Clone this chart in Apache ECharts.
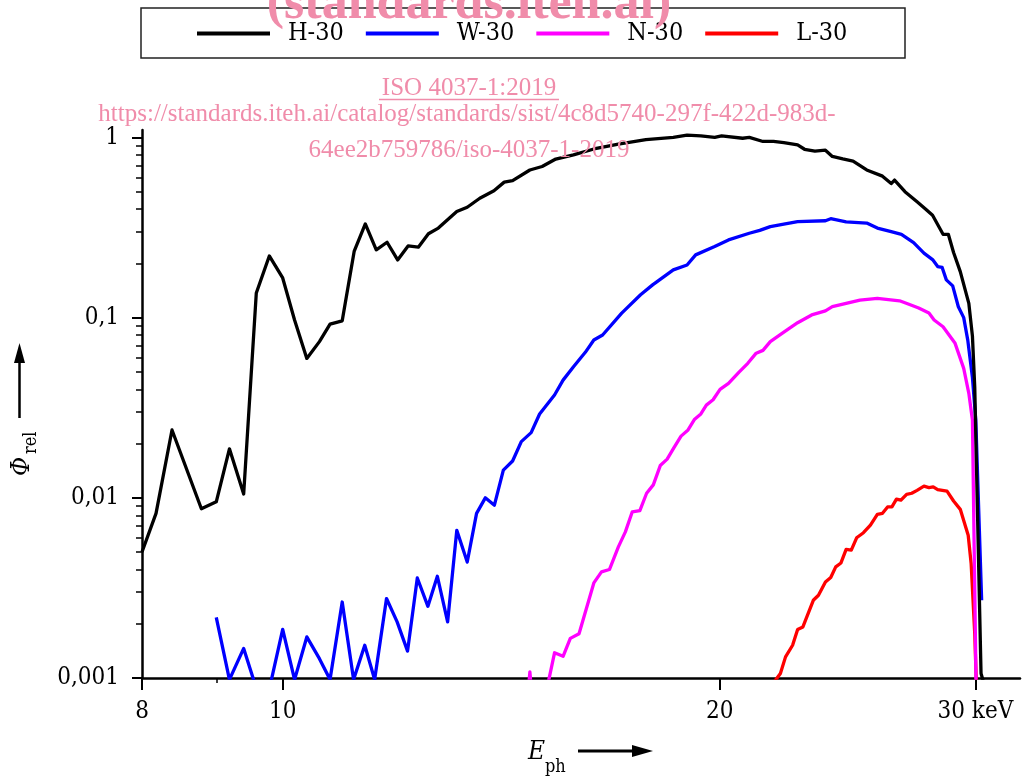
<!DOCTYPE html>
<html><head><meta charset="utf-8">
<script src="https://cdn.jsdelivr.net/npm/echarts@6/dist/echarts.min.js"></script>
<style>html,body{margin:0;padding:0;background:#fff}#c{width:1022px;height:778px}</style>
</head><body><div id="c"></div>
<script>
const seriesNames = ['H-30', 'W-30', 'N-30', 'L-30'];
const seriesColors = ['#000000', '#0000ff', '#ff00ff', '#ff0000'];

const h30E = [8.0, 8.18, 8.39, 8.79, 9.0, 9.19, 9.4, 9.59, 9.79, 10.0, 10.19, 10.39, 10.6, 10.78, 10.99, 11.2, 11.4, 11.6, 11.8, 12.0, 12.2, 12.4, 12.6, 12.8, 13.18, 13.4, 13.67, 13.98, 14.21, 14.4, 14.8, 15.09, 15.42, 15.86, 16.38, 17.03, 17.79, 18.58, 18.99, 19.41, 19.84, 20.06, 20.74, 20.96, 21.42, 21.78, 22.14, 22.63, 22.88, 23.26, 23.65, 23.91, 24.31, 24.71, 25.25, 25.89, 26.25, 26.39, 26.83, 27.35, 27.73, 28.03, 28.5, 28.74, 28.98, 29.29, 29.69, 29.86, 29.97, 30.27, 30.45];
const h30Phi = [0.0050, 0.0082, 0.0238, 0.0087, 0.0095, 0.0187, 0.0105, 0.137, 0.220, 0.166, 0.097, 0.0594, 0.0736, 0.092, 0.096, 0.233, 0.331, 0.238, 0.262, 0.209, 0.250, 0.246, 0.292, 0.314, 0.388, 0.41, 0.46, 0.506, 0.565, 0.576, 0.66, 0.69, 0.759, 0.80, 0.863, 0.918, 0.973, 1.0, 1.03, 1.02, 1.0, 1.02, 0.99, 1.0, 0.95, 0.95, 0.935, 0.91, 0.86, 0.84, 0.85, 0.785, 0.76, 0.74, 0.66, 0.61, 0.555, 0.58, 0.50, 0.44, 0.40, 0.37, 0.29, 0.29, 0.23, 0.18, 0.12, 0.079, 0.041, 0.00106, 0.0009];

const w30E = [9.0, 9.19, 9.4, 9.58, 9.8, 10.0, 10.19, 10.39, 10.6, 10.78, 10.99, 11.19, 11.39, 11.57, 11.79, 11.99, 12.19, 12.38, 12.59, 12.78, 12.99, 13.18, 13.4, 13.6, 13.79, 13.99, 14.19, 14.4, 14.6, 14.83, 15.03, 15.39, 15.6, 15.86, 16.16, 16.38, 16.61, 17.12, 17.64, 17.98, 18.58, 18.99, 19.25, 19.84, 20.28, 20.96, 21.31, 21.67, 22.14, 22.63, 23.65, 23.85, 24.44, 25.25, 25.68, 26.25, 26.68, 27.2, 27.65, 28.03, 28.26, 28.46, 28.65, 28.94, 29.2, 29.45, 29.64, 29.86, 30.02, 30.3];
const w30Phi = [0.00217, 0.00098, 0.00146, 0.0009, 0.0009, 0.00186, 0.00098, 0.00169, 0.00128, 0.00098, 0.00264, 0.00098, 0.00152, 0.00098, 0.00276, 0.00205, 0.00141, 0.00359, 0.0025, 0.00367, 0.00205, 0.0066, 0.0044, 0.0082, 0.0100, 0.0091, 0.01425, 0.016, 0.0205, 0.023, 0.0292, 0.0372, 0.045, 0.0534, 0.0642, 0.0752, 0.0801, 0.106, 0.134, 0.152, 0.184, 0.196, 0.223, 0.248, 0.27, 0.294, 0.305, 0.32, 0.33, 0.341, 0.345, 0.354, 0.34, 0.335, 0.314, 0.30, 0.29, 0.261, 0.228, 0.21, 0.192, 0.19, 0.162, 0.15, 0.115, 0.1, 0.075, 0.0465, 0.027, 0.0027];

const n30E = [14.6, 14.8, 15.0, 15.2, 15.39, 15.6, 15.78, 16.0, 16.38, 16.58, 16.79, 17.03, 17.22, 17.41, 17.62, 17.81, 18.0, 18.2, 18.4, 18.6, 18.81, 19.02, 19.22, 19.41, 19.58, 19.79, 20.01, 20.28, 20.63, 20.91, 21.19, 21.42, 21.67, 22.09, 22.63, 23.14, 23.65, 23.91, 24.44, 24.98, 25.68, 26.6, 26.97, 27.42, 27.87, 28.1, 28.5, 29.05, 29.45, 29.69, 29.86, 30.03];
const n30Phi = [0.0003, 0.00108, 0.0003, 0.00086, 0.00138, 0.00132, 0.00166, 0.00176, 0.00337, 0.00388, 0.0040, 0.00534, 0.00647, 0.00836, 0.0085, 0.0106, 0.0118, 0.0151, 0.0164, 0.019, 0.022, 0.0238, 0.0273, 0.0292, 0.0327, 0.035, 0.040, 0.0432, 0.050, 0.0558, 0.0635, 0.0658, 0.0736, 0.082, 0.0937, 0.1035, 0.109, 0.115, 0.12, 0.125, 0.128, 0.124, 0.119, 0.113, 0.106, 0.097, 0.089, 0.072, 0.0523, 0.038, 0.027, 0.00095];

const l30E = [21.8, 22.02, 22.2, 22.45, 22.63, 22.82, 23.2, 23.39, 23.65, 23.85, 24.04, 24.24, 24.44, 24.64, 24.85, 25.12, 25.4, 25.68, 25.89, 26.1, 26.28, 26.47, 26.66, 26.9, 27.12, 27.35, 27.65, 27.87, 28.06, 28.26, 28.68, 28.98, 29.29, 29.66, 29.8, 29.97, 30.05];
const l30Phi = [0.00095, 0.00106, 0.00131, 0.00152, 0.00186, 0.00192, 0.0027, 0.00288, 0.00341, 0.00361, 0.00414, 0.00435, 0.00517, 0.00512, 0.006, 0.0064, 0.00705, 0.0081, 0.0082, 0.0089, 0.0089, 0.00984, 0.0097, 0.01045, 0.0106, 0.0110, 0.0116, 0.0114, 0.0115, 0.0111, 0.0109, 0.0096, 0.00863, 0.0062, 0.0043, 0.00176, 0.0009];

const xMajorTicks = [8, 10, 20, 30];
const xMinorTicks = [9];
const yMajorTicks = [0.001, 0.01, 0.1, 1];
const yMinorTicks = [0.002, 0.003, 0.004, 0.005, 0.006, 0.007, 0.008, 0.009,
                     0.02, 0.03, 0.04, 0.05, 0.06, 0.07, 0.08, 0.09,
                     0.2, 0.3, 0.4, 0.5, 0.6, 0.7, 0.8, 0.9];
const xUnit = 'keV';
const xTitleMain = 'E', xTitleSub = 'ph';
const yTitleMain = 'Φ', yTitleSub = 'rel';
const wmBig = '(standards.iteh.ai)';
const wmIso = 'ISO 4037-1:2019';
const wmUrl1 = 'https://standards.iteh.ai/catalog/standards/sist/4c8d5740-297f-422d-983d-';
const wmUrl2 = '64ee2b759786/iso-4037-1-2019';

const FONT = '"DejaVu Serif Condensed", "DejaVu Serif", serif';
const WMFONT = '"Liberation Serif", "Times New Roman", serif';
const PINK = '#f08caa';

function zip(a, b) { return a.map((v, i) => [v, b[i]]); }
const seriesData = [zip(h30E, h30Phi), zip(w30E, w30Phi), zip(n30E, n30Phi), zip(l30E, l30Phi)];

function fmtY(v) {
  return String(Number(Number(v).toPrecision(6))).replace('.', ',');
}
function fmtX(v) {
  const n = Math.round(Number(v));
  return n === 30 ? n + ' ' + xUnit : String(n);
}

const chart = echarts.init(document.getElementById('c'), null, {renderer: 'canvas'});
const xBase = {type: 'log', logBase: 10, min: 8, max: 32.2, gridIndex: 0, position: 'bottom', splitLine: {show: false}, minorTick: {show: false}};
const yBase = {type: 'log', logBase: 10, min: 0.001, max: 1.1, gridIndex: 0, position: 'left', splitLine: {show: false}, minorTick: {show: false}};

chart.setOption({
  animation: false,
  backgroundColor: '#ffffff',
  grid: {left: 142, right: 2, top: 130, bottom: 100, containLabel: false, outerBoundsMode: 'none'},
  legend: {
    data: seriesNames, left: 197, top: 21, padding: 0,
    itemWidth: 73, itemHeight: 4, itemGap: 22, icon: 'rect',
    textStyle: {fontFamily: FONT, fontSize: 25, color: '#000', padding: [0, 0, 0, 13]}
  },
  xAxis: [
    Object.assign({}, xBase, {
      axisLine: {show: true, lineStyle: {color: '#000', width: 2.5}},
      axisTick: {show: true, customValues: xMajorTicks, length: 12, lineStyle: {color: '#000', width: 2}},
      axisLabel: {show: true, customValues: xMajorTicks, formatter: fmtX, margin: 22, fontFamily: FONT, fontSize: 24, color: '#000'}
    }),
    Object.assign({}, xBase, {
      axisLine: {show: false},
      axisTick: {show: true, customValues: xMinorTicks, length: 5, lineStyle: {color: '#000', width: 1.5}},
      axisLabel: {show: false}
    })
  ],
  yAxis: [
    Object.assign({}, yBase, {
      axisLine: {show: true, lineStyle: {color: '#000', width: 2.5}},
      axisTick: {show: true, customValues: yMajorTicks, length: 10, lineStyle: {color: '#000', width: 2}},
      axisLabel: {show: true, customValues: yMajorTicks, formatter: fmtY, margin: 23, fontFamily: FONT, fontSize: 24, color: '#000'}
    }),
    Object.assign({}, yBase, {
      axisLine: {show: false},
      axisTick: {show: true, customValues: yMinorTicks, length: 6, lineStyle: {color: '#000', width: 1.5}},
      axisLabel: {show: false}
    })
  ],
  series: seriesNames.map((name, i) => ({
    name: name, type: 'line', data: seriesData[i], xAxisIndex: 0, yAxisIndex: 0,
    symbol: 'none', showSymbol: false, clip: true, smooth: false,
    color: seriesColors[i],
    lineStyle: {color: seriesColors[i], width: 3.3, join: 'round'},
    itemStyle: {color: seriesColors[i]},
    z: 3 + (3 - i)
  })),
  graphic: {elements: [
    {type: 'rect', shape: {x: 141, y: 8, width: 764, height: 50}, style: {fill: 'none', stroke: '#222', lineWidth: 1.5}, z: 1},
    {type: 'text', x: 528, y: 752, style: {text: xTitleMain, fontFamily: FONT, fontSize: 26, fontStyle: 'italic', fill: '#000', align: 'left', verticalAlign: 'middle'}},
    {type: 'text', x: 545, y: 767, style: {text: xTitleSub, fontFamily: FONT, fontSize: 18, fill: '#000', align: 'left', verticalAlign: 'middle'}},
    {type: 'line', shape: {x1: 578, y1: 751, x2: 634, y2: 751}, style: {stroke: '#000', lineWidth: 3}},
    {type: 'polygon', shape: {points: [[632, 745], [653, 751], [632, 757]]}, style: {fill: '#000'}},
    {type: 'text', x: 22, y: 476, rotation: Math.PI / 2, style: {text: yTitleMain, fontFamily: FONT, fontSize: 26, fontStyle: 'italic', fill: '#000', align: 'left', verticalAlign: 'middle'}},
    {type: 'text', x: 31, y: 454, rotation: Math.PI / 2, style: {text: yTitleSub, fontFamily: FONT, fontSize: 18, fill: '#000', align: 'left', verticalAlign: 'middle'}},
    {type: 'line', shape: {x1: 19.5, y1: 418, x2: 19.5, y2: 361}, style: {stroke: '#000', lineWidth: 2.5}},
    {type: 'polygon', shape: {points: [[14, 363], [19.5, 343], [25, 363]]}, style: {fill: '#000'}},
    {type: 'text', x: 469, y: 5, z: 100, style: {text: wmBig, fontFamily: WMFONT, fontSize: 52, fontWeight: 'bold', fill: PINK, align: 'center', verticalAlign: 'middle'}},
    {type: 'text', x: 469, y: 88, z: 100, style: {text: wmIso, fontFamily: WMFONT, fontSize: 25, fill: PINK, align: 'center', verticalAlign: 'middle'}},
    {type: 'line', z: 100, shape: {x1: 379, y1: 99.5, x2: 559, y2: 99.5}, style: {stroke: PINK, lineWidth: 1.5}},
    {type: 'text', x: 467, y: 114, z: 100, style: {text: wmUrl1, fontFamily: WMFONT, fontSize: 25, fill: PINK, align: 'center', verticalAlign: 'middle'}},
    {type: 'text', x: 469, y: 150, z: 100, style: {text: wmUrl2, fontFamily: WMFONT, fontSize: 25, fill: PINK, align: 'center', verticalAlign: 'middle'}}
  ]}
});
</script>
</body></html>
